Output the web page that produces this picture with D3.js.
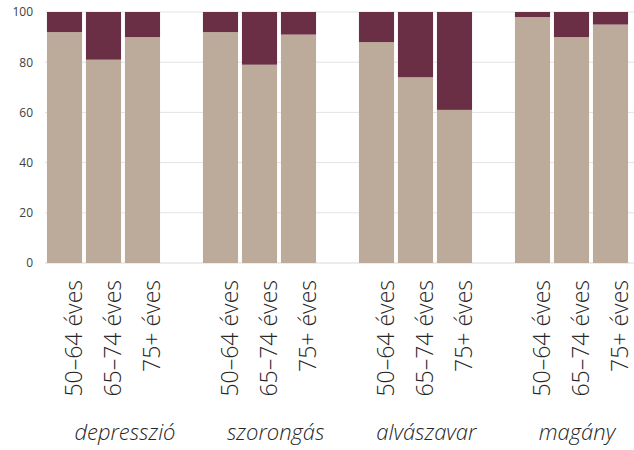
<!DOCTYPE html>
<html>
<head>
<meta charset="utf-8">
<script src="https://cdn.jsdelivr.net/npm/d3@7"></script>
<style>
  body { margin: 0; background: #fff; }
</style>
</head>
<body>
<svg id="chart" width="634" height="450"></svg>
<script>
const groups = ["depresszió", "szorongás", "alvászavar", "magány"];
const ages = ["50–64 éves", "65–74 éves", "75+ éves"];
// lower (beige) part of each bar, in group order
const lowerValues = [92, 81, 90, 92, 79, 91, 88, 74, 61, 98, 90, 95];
// upper (maroon) part
const upperValues = [8, 19, 10, 8, 21, 9, 12, 26, 39, 2, 10, 5];
const yTicks = [0, 20, 40, 60, 80, 100];

const svg = d3.select("#chart");
const width = 634;
const margin = { top: 12, right: 0, bottom: 187, left: 45 };

// one slot per bar plus an empty slot between groups
const slots = [];
groups.forEach((g, gi) => {
  ages.forEach((a, ai) => slots.push({ key: g + "|" + a, group: g, age: a, i: gi * 3 + ai }));
  if (gi < groups.length - 1) slots.push({ key: "gap" + gi, gap: true });
});

const x = d3.scaleBand()
  .domain(slots.map(d => d.key))
  .range([margin.left, margin.left + 15 * 39])
  .paddingInner(0.1)
  .paddingOuter(0.05);

const y = d3.scaleLinear().domain([0, 100]).range([263, margin.top]);

// group titles sit on their own, evenly spread row
const gx = d3.scalePoint().domain(groups).range([125, 577]);

// gridlines
svg.append("g")
  .selectAll("line")
  .data(yTicks)
  .join("line")
  .attr("x1", margin.left)
  .attr("x2", width)
  .attr("y1", d => y(d))
  .attr("y2", d => y(d))
  .attr("stroke", d => d === 0 ? "#d9d9d9" : "#e3e3e3")
  .attr("stroke-width", 1);

// y axis labels
const yAxis = d3.axisLeft(y).tickValues(yTicks).tickSize(0).tickPadding(12);
svg.append("g")
  .attr("transform", `translate(${margin.left},0)`)
  .call(yAxis)
  .call(g => g.select(".domain").remove())
  .call(g => g.selectAll("text")
    .attr("font-family", "Open Sans, sans-serif")
    .attr("font-size", "12px")
    .attr("fill", "#404040"));

const bars = slots.filter(d => !d.gap);

// lower part
svg.append("g")
  .selectAll("rect")
  .data(bars)
  .join("rect")
  .attr("x", d => x(d.key))
  .attr("width", x.bandwidth())
  .attr("y", d => y(lowerValues[d.i]))
  .attr("height", d => y(0) - y(lowerValues[d.i]))
  .attr("fill", "#bcab9b");

// upper part
svg.append("g")
  .selectAll("rect")
  .data(bars)
  .join("rect")
  .attr("x", d => x(d.key))
  .attr("width", x.bandwidth())
  .attr("y", d => y(lowerValues[d.i] + upperValues[d.i]))
  .attr("height", d => y(lowerValues[d.i]) - y(lowerValues[d.i] + upperValues[d.i]))
  .attr("fill", "#6b2f45");

// rotated age labels
svg.append("g")
  .selectAll("text")
  .data(bars)
  .join("text")
  .attr("transform", d => `translate(${x(d.key) + x.bandwidth() / 2 + 17},280) rotate(-90)`)
  .attr("text-anchor", "end")
  .attr("font-family", "Open Sans, sans-serif")
  .attr("font-weight", 300)
  .attr("font-size", "23px")
  .attr("fill", "#262626")
  .text(d => d.age);

// group labels
svg.append("g")
  .selectAll("text")
  .data(groups)
  .join("text")
  .attr("x", g => gx(g))
  .attr("y", 440)
  .attr("text-anchor", "middle")
  .attr("font-family", "Open Sans, sans-serif")
  .attr("font-style", "italic")
  .attr("font-weight", 300)
  .attr("font-size", "22px")
  .attr("fill", "#262626")
  .text(g => g);
</script>
</body>
</html>
